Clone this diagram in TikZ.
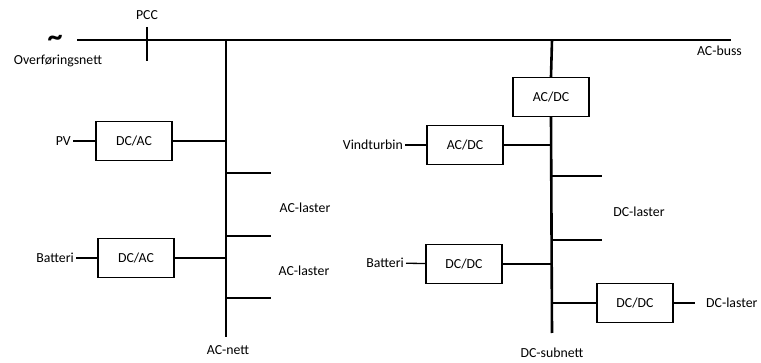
\documentclass[tikz,border=0pt]{standalone}
\usepackage{fontspec}
\setmainfont{Carlito}
\usetikzlibrary{positioning,calc}

\begin{document}
\begin{tikzpicture}[
    x=1pt, y=-1pt,
    conv/.style={rectangle, draw, line width=1.2pt, minimum width=76pt, minimum height=39pt, font=\fontsize{13.8}{15}\selectfont},
    lbl/.style={inner sep=2pt, font=\fontsize{13.8}{15}\selectfont},
    bus/.style={line width=2.6pt},
    wire/.style={line width=1.3pt}
]
    \useasboundingbox (0,0) rectangle (761,363);

    % AC-buss og tilknytning
    \coordinate (busL) at (77,40);
    \coordinate (busR) at (731,40);
    \coordinate (pccT) at (147,27);
    \coordinate (pccB) at (147,61);
    \node[lbl] (pcc) at (147,15) {PCC};
    \node[inner sep=0pt, anchor=base, text height=9pt, text depth=0pt, font=\fontsize{30}{30}\selectfont\bfseries] (grid) at (55,47) {\textasciitilde};
    \node[lbl] (ovf) at (58,61) {Overføringsnett};
    \node[lbl, anchor=east] (acbuss) at (744,51) {AC-buss};
    \draw[bus] (busL) -- (busR);
    \draw[bus] (pccT) -- (pccB);

    % AC-nett
    \coordinate (acT) at (226,40);
    \coordinate (acB) at (226,337);
    \draw[bus] (acT) -- (acB);
    \node[lbl] (acnett) at (228,350) {AC-nett};

    \node[conv] (dcac1) at (134,141) {DC/AC};
    \node[lbl, anchor=east] (pv) at (73,141) {PV};
    \draw[wire] (pv) -- (dcac1);
    \draw[wire] (dcac1.east) -- (dcac1.east -| acT);

    \node[conv] (dcac2) at (136,258) {DC/AC};
    \node[lbl, anchor=east] (batt1) at (76,258) {Batteri};
    \draw[wire] (batt1) -- (dcac2);
    \draw[wire] (dcac2.east) -- (dcac2.east -| acT);

    \foreach \y/\n in {173/a1, 236/a2, 298/a3} {
        \coordinate (s\n) at (271,\y);
        \draw[wire] (s\n -| acT) -- (s\n);
    }
    \node[lbl] (acl1) at (305,208) {AC-laster};
    \node[lbl] (acl2) at (304,271) {AC-laster};

    % DC-subnett
    \coordinate (dcT) at (552,40);
    \coordinate (dcB) at (552,333);
    \node[conv] (acdc1) at (551,97) {AC/DC};
    \draw[bus] (dcT) -- (acdc1.north);
    \draw[bus] (acdc1.south) -- (dcB);
    \node[lbl] (dcnett) at (552,353) {DC-subnett};

    \node[conv] (acdc2) at (465,145) {AC/DC};
    \node[lbl, anchor=east] (vind) at (405,145) {Vindturbin};
    \draw[wire] (vind) -- (acdc2);
    \draw[wire] (acdc2.east) -- (acdc2.east -| dcT);

    \node[conv] (dcdc1) at (464,264) {DC/DC};
    \node[lbl, anchor=east] (batt2) at (406,263) {Batteri};
    \draw[wire] (batt2) -- (dcdc1);
    \draw[wire] (dcdc1.east) -- (dcdc1.east -| dcT);

    \foreach \y/\n in {176/d1, 240/d2} {
        \coordinate (s\n) at (602,\y);
        \draw[wire] (s\n -| dcT) -- (s\n);
    }
    \node[lbl] (dcl1) at (639,212) {DC-laster};

    \node[conv] (dcdc2) at (635,303) {DC/DC};
    \coordinate (dcl2end) at (695,303);
    \draw[wire] (dcdc2.west -| dcT) -- (dcdc2.west);
    \draw[wire] (dcdc2.east) -- (dcl2end);
    \node[lbl, anchor=west] (dcl2) at (704,303) {DC-laster};
\end{tikzpicture}
\end{document}
